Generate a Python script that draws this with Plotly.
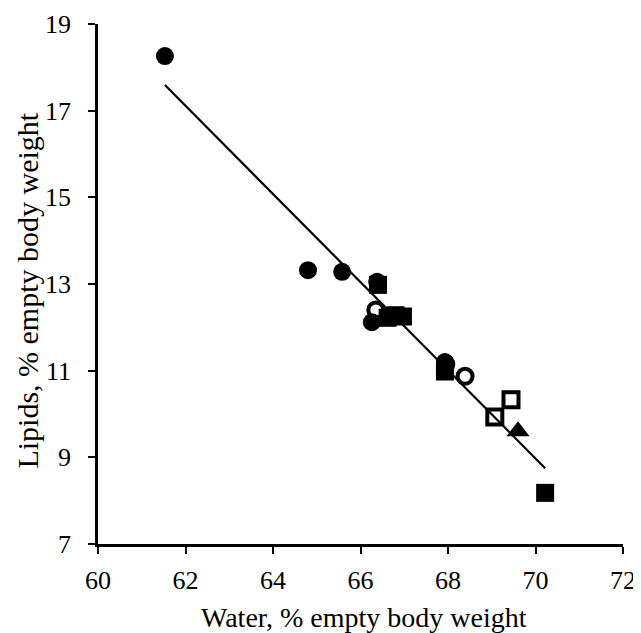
import plotly.graph_objects as go

# Data
fc_x = [61.53, 64.80, 65.58, 66.38, 66.26, 67.93]
fc_y = [18.26, 13.32, 13.28, 13.05, 12.12, 11.20]
oc_x = [66.35, 68.39, 67.95]
oc_y = [12.40, 10.87, 11.15]
fs_x = [66.40, 66.62, 66.80, 66.97, 67.93, 70.22]
fs_y = [12.98, 12.22, 12.28, 12.25, 10.98, 8.18]
os_x = [69.44, 69.07]
os_y = [10.33, 9.93]
ft_x = [69.60]
ft_y = [9.60]
fit_x = [61.53, 70.22]
fit_y = [17.59, 8.75]

x_ticks = [60, 62, 64, 66, 68, 70, 72]
y_ticks = [7, 9, 11, 13, 15, 17, 19]
x_title = "Water, % empty body weight"
y_title = "Lipids, % empty body weight"

fig = go.Figure()
fig.add_trace(go.Scatter(x=fit_x, y=fit_y, mode="lines",
                         line=dict(color="black", width=2.2), showlegend=False))
fig.add_trace(go.Scatter(x=fc_x, y=fc_y, mode="markers",
                         marker=dict(symbol="circle", size=18, color="black"), showlegend=False))
fig.add_trace(go.Scatter(x=fs_x, y=fs_y, mode="markers",
                         marker=dict(symbol="square", size=18, color="black"), showlegend=False))
fig.add_trace(go.Scatter(x=oc_x, y=oc_y, mode="markers",
                         marker=dict(symbol="circle-open", size=15, color="black",
                                     line=dict(width=4, color="black")), showlegend=False))
fig.add_trace(go.Scatter(x=os_x, y=os_y, mode="markers",
                         marker=dict(symbol="square-open", size=15, color="black",
                                     line=dict(width=4, color="black")), showlegend=False))
fig.add_trace(go.Scatter(x=ft_x, y=ft_y, mode="markers",
                         marker=dict(symbol="triangle-up", size=20, color="black"), showlegend=False))

fam = "Liberation Serif, Times New Roman, serif"
tickfont = dict(family=fam, size=26, color="black")
fig.update_layout(
    width=633, height=625,
    margin=dict(l=90, r=18, t=16, b=89),
    paper_bgcolor="white", plot_bgcolor="white",
    font=dict(family=fam, size=25, color="black"),
    xaxis=dict(range=[60, 72], tickvals=x_ticks, showgrid=False, zeroline=False,
               automargin=False, tickfont=tickfont, ticklabelstandoff=4,
               showline=True, linecolor="black", linewidth=2.5,
               ticks="outside", ticklen=7, tickwidth=2, tickcolor="black"),
    yaxis=dict(range=[7, 19], tickvals=y_ticks, showgrid=False, zeroline=False,
               automargin=False, tickfont=tickfont, ticklabelstandoff=12,
               showline=True, linecolor="black", linewidth=2.5,
               ticks="outside", ticklen=7, tickwidth=2, tickcolor="black"),
    annotations=[
        dict(text=x_title, xref="paper", yref="paper", x=0.507, y=-0.142,
             xanchor="center", yanchor="middle", showarrow=False,
             font=dict(family=fam, size=28, color="black")),
        dict(text=y_title, xref="paper", yref="paper", x=-0.136, y=0.4865,
             xanchor="center", yanchor="middle", textangle=-90, showarrow=False,
             font=dict(family=fam, size=30, color="black")),
    ],
)
fig.write_html("out.html")
